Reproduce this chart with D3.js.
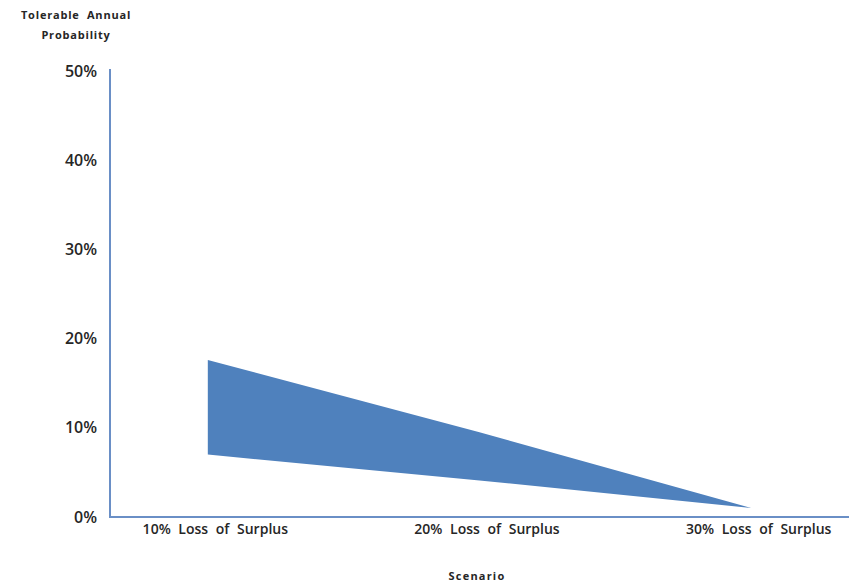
<!DOCTYPE html>
<html>
<head>
<meta charset="utf-8">
<script src="https://cdn.jsdelivr.net/npm/d3@7/dist/d3.min.js"></script>
<style>
  html, body { margin: 0; padding: 0; background: #ffffff; }
  svg { display: block; }
</style>
</head>
<body>
<svg id="chart" width="855" height="584"></svg>
<script>
// Scenario categories and the tolerable annual probability band for each
const categories = ["10% Loss of Surplus", "20% Loss of Surplus", "30% Loss of Surplus"];
const upperBound = [0.176, 0.095, 0.01];
const lowerBound = [0.070, 0.041, 0.01];
const yTickValues = [0, 0.1, 0.2, 0.3, 0.4, 0.5];
const yTitleLines = ["Tolerable  Annual", "Probability"];
const xTitle = "Scenario";

const svg = d3.select("#chart");
const plot = { left: 110, right: 849, top: 71, bottom: 517 };
const labelFont = "'Open Sans', 'DejaVu Sans', sans-serif";

const x = d3.scalePoint()
  .domain(categories)
  .range([plot.left, plot.right])
  .padding(0.36);

const y = d3.scaleLinear()
  .domain([0, 0.5])
  .range([plot.bottom, plot.top]);

const axisColor = "#6a8fc6";
const fillColor = "#4f81bd";

// Band between the lower and upper bounds
const band = categories.map((c, i) => ({ c, lo: lowerBound[i], hi: upperBound[i] }));
svg.append("path")
  .datum(band)
  .attr("fill", fillColor)
  .attr("d", d3.area()
    .x(d => x(d.c))
    .y0(d => y(d.lo))
    .y1(d => y(d.hi)));

// Y axis: line and percentage labels, no tick marks
const yAxis = svg.append("g")
  .attr("transform", `translate(${plot.left},0)`)
  .call(d3.axisLeft(y)
    .tickValues(yTickValues)
    .tickFormat(d3.format(".0%"))
    .tickSize(0)
    .tickPadding(13));
yAxis.select(".domain").remove();
yAxis.selectAll("text")
  .attr("font-family", labelFont)
  .attr("font-weight", 600)
  .attr("font-size", 16)
  .attr("fill", "#262626");
svg.append("line")
  .attr("x1", plot.left).attr("x2", plot.left)
  .attr("y1", y(0.5) - 2).attr("y2", y(0))
  .attr("stroke", axisColor).attr("stroke-width", 2);

// X axis: baseline and category labels
const xAxis = svg.append("g")
  .attr("transform", `translate(0,${plot.bottom})`)
  .call(d3.axisBottom(x).tickSize(0).tickPadding(7));
xAxis.select(".domain").remove();
xAxis.selectAll("text")
  .attr("dx", 7)
  .attr("font-family", labelFont)
  .attr("font-weight", 600)
  .attr("font-size", 14)
  .attr("word-spacing", 4)
  .attr("fill", "#262626");
svg.append("line")
  .attr("x1", plot.left - 1).attr("x2", plot.right)
  .attr("y1", y(0)).attr("y2", y(0))
  .attr("stroke", axisColor).attr("stroke-width", 2);

// Axis titles
svg.append("text")
  .attr("x", 76).attr("y", 19)
  .attr("text-anchor", "middle")
  .attr("font-family", labelFont)
  .attr("font-weight", "bold")
  .attr("font-size", 11)
  .attr("letter-spacing", 0.8)
  .attr("fill", "#262626")
  .selectAll("tspan")
  .data(yTitleLines)
  .join("tspan")
  .attr("x", 76)
  .attr("dy", (d, i) => i === 0 ? 0 : 20)
  .attr("xml:space", "preserve")
  .style("white-space", "pre")
  .text(d => d);

svg.append("text")
  .attr("x", 477).attr("y", 580)
  .attr("text-anchor", "middle")
  .attr("font-family", labelFont)
  .attr("font-weight", "bold")
  .attr("font-size", 11)
  .attr("letter-spacing", 1.2)
  .attr("fill", "#262626")
  .text(xTitle);
</script>
</body>
</html>
